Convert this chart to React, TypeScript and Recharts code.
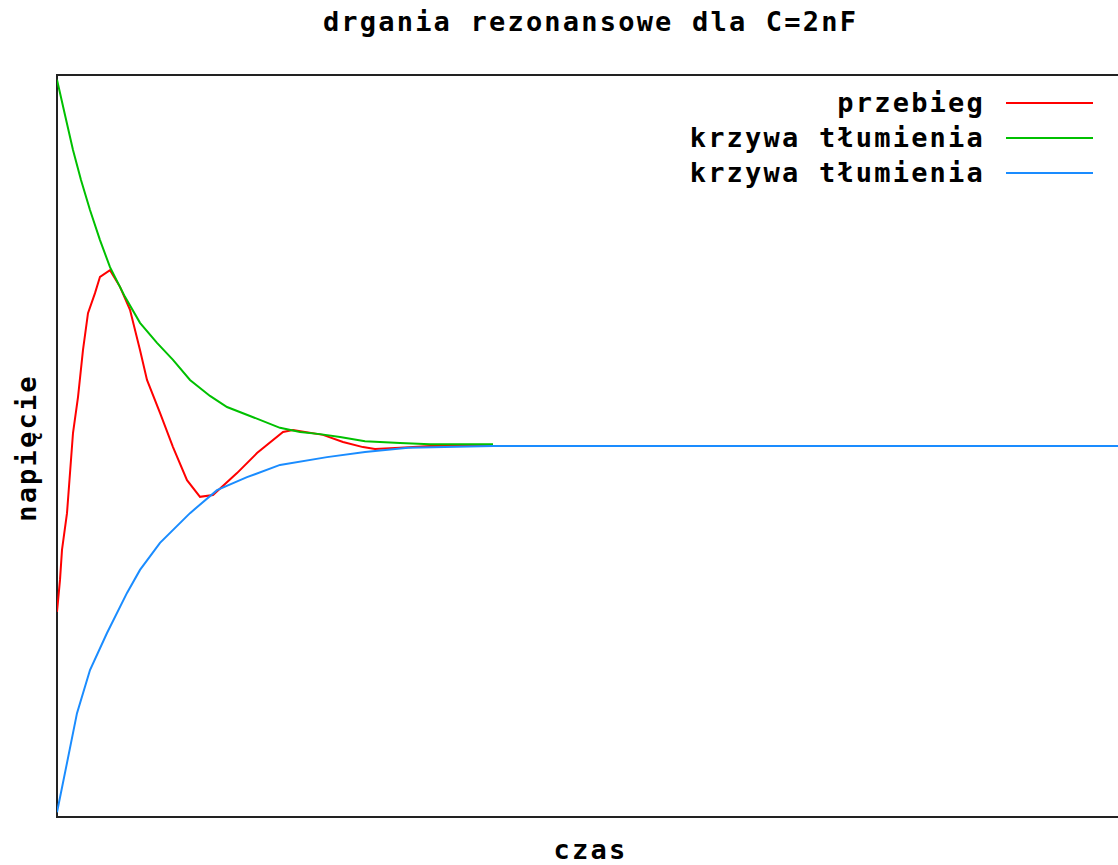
import React from 'react';
import { LineChart, Line, XAxis, YAxis, ReferenceArea } from 'recharts';

// time (arbitrary units) and normalised voltage
const przebieg = [
  { t: 0, v: -0.447 }, { t: 0.03, v: -0.361 }, { t: 0.05, v: -0.28 }, { t: 0.1, v: -0.181 },
  { t: 0.16, v: 0.035 }, { t: 0.21, v: 0.132 }, { t: 0.26, v: 0.259 }, { t: 0.31, v: 0.358 },
  { t: 0.38, v: 0.412 }, { t: 0.43, v: 0.456 }, { t: 0.53, v: 0.474 }, { t: 0.63, v: 0.429 },
  { t: 0.73, v: 0.367 }, { t: 0.83, v: 0.259 }, { t: 0.9, v: 0.178 }, { t: 1.03, v: 0.089 },
  { t: 1.16, v: -0.003 }, { t: 1.3, v: -0.092 }, { t: 1.43, v: -0.137 }, { t: 1.56, v: -0.132 },
  { t: 1.8, v: -0.073 }, { t: 2.0, v: -0.019 }, { t: 2.26, v: 0.038 }, { t: 2.36, v: 0.043 },
  { t: 2.66, v: 0.03 }, { t: 2.86, v: 0.011 }, { t: 3.06, v: -0.003 }, { t: 3.18, v: -0.008 },
  { t: 3.43, v: -0.005 }, { t: 3.73, v: 0 }, { t: 4.36, v: 0 },
];

const tlumienieGora = [
  { t: 0, v: 0.987 }, { t: 0.08, v: 0.892 }, { t: 0.16, v: 0.798 }, { t: 0.24, v: 0.717 },
  { t: 0.33, v: 0.636 }, { t: 0.43, v: 0.555 }, { t: 0.53, v: 0.482 }, { t: 0.68, v: 0.402 },
  { t: 0.83, v: 0.332 }, { t: 1.0, v: 0.278 }, { t: 1.16, v: 0.232 }, { t: 1.33, v: 0.178 },
  { t: 1.53, v: 0.135 }, { t: 1.7, v: 0.105 }, { t: 1.93, v: 0.081 }, { t: 2.23, v: 0.049 },
  { t: 2.43, v: 0.038 }, { t: 2.63, v: 0.032 }, { t: 2.83, v: 0.024 }, { t: 3.08, v: 0.013 },
  { t: 3.43, v: 0.008 }, { t: 3.73, v: 0.005 }, { t: 4.36, v: 0.005 },
];

const tlumienieDol = [
  { t: 0, v: -0.987 }, { t: 0.1, v: -0.854 }, { t: 0.2, v: -0.72 }, { t: 0.33, v: -0.604 },
  { t: 0.5, v: -0.504 }, { t: 0.7, v: -0.396 }, { t: 0.83, v: -0.334 }, { t: 1.03, v: -0.261 },
  { t: 1.33, v: -0.181 }, { t: 1.6, v: -0.119 }, { t: 1.9, v: -0.084 }, { t: 2.23, v: -0.051 },
  { t: 2.7, v: -0.03 }, { t: 3.08, v: -0.016 }, { t: 3.51, v: -0.005 }, { t: 4.36, v: 0 },
  { t: 11, v: 0 },
];

const series = [
  { name: 'przebieg', data: przebieg, color: '#ff0000' },
  { name: 'krzywa tłumienia', data: tlumienieGora, color: '#00c000' },
  { name: 'krzywa tłumienia', data: tlumienieDol, color: '#1a8cff' },
];

const font = '"DejaVu Sans Mono", monospace';
const textStyle: React.CSSProperties = {
  position: 'absolute',
  fontFamily: font,
  fontWeight: 'bold',
  fontSize: 27,
  letterSpacing: 2.2,
  color: '#000',
  whiteSpace: 'nowrap',
  lineHeight: '30px',
};

export default function App() {
  return (
    <div style={{ position: 'absolute', left: 0, top: 0, width: 1118, height: 865, overflow: 'hidden', background: '#fff' }}>
      <LineChart width={1180} height={865} margin={{ top: 75, right: 23, bottom: 48, left: 57 }}>
        <XAxis type="number" dataKey="t" domain={[0, 11]} hide allowDataOverflow />
        <YAxis type="number" dataKey="v" domain={[-1, 1]} hide allowDataOverflow />
        <ReferenceArea x1={0} x2={11} y1={-1} y2={1} fill="none" stroke="#222" strokeWidth={2} />
        {series.map((s, i) => (
          <Line
            key={i}
            data={s.data}
            dataKey="v"
            name={s.name}
            type="linear"
            stroke={s.color}
            strokeWidth={2}
            dot={false}
            isAnimationActive={false}
          />
        ))}
      </LineChart>

      <div style={{ ...textStyle, left: 0, width: 1181, top: 7, textAlign: 'center' }}>
        drgania rezonansowe dla C=2nF
      </div>
      <div style={{ ...textStyle, left: 0, width: 1181, top: 835, textAlign: 'center' }}>czas</div>
      <div
        style={{
          ...textStyle,
          left: 27,
          top: 448,
          transform: 'translate(-50%, -50%) rotate(-90deg)',
        }}
      >
        napięcie
      </div>

      {series.map((s, i) => (
        <div key={i} style={{ position: 'absolute', left: 500, width: 600, top: 88 + i * 35, height: 30, display: 'flex', alignItems: 'center' }}>
          <div style={{ ...textStyle, position: 'static', flex: 1, textAlign: 'right' }}>{s.name}</div>
          <div style={{ width: 87, height: 2, background: s.color, marginLeft: 21, marginRight: 7 }} />
        </div>
      ))}
    </div>
  );
}
